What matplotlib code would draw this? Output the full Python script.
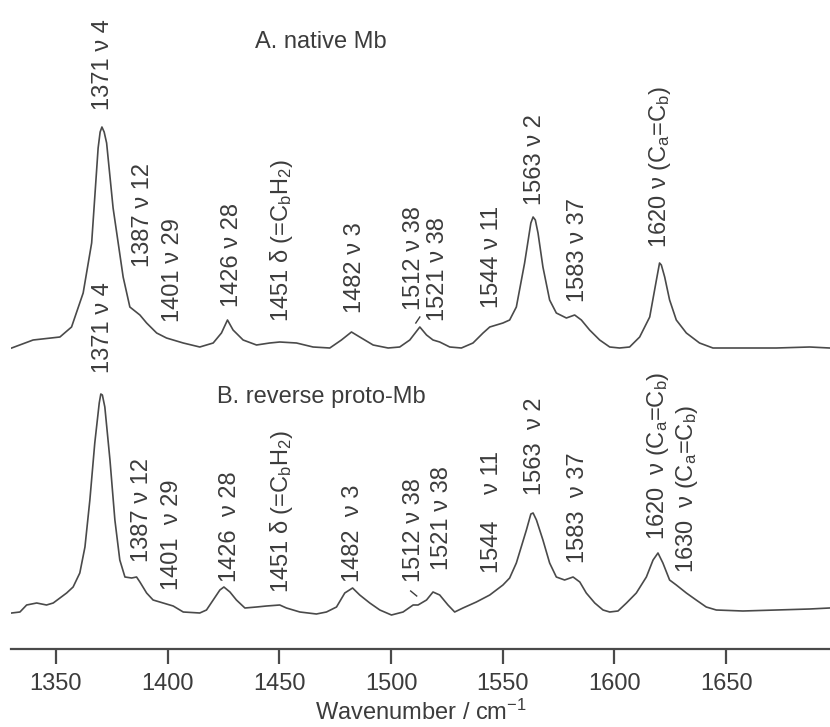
import matplotlib
matplotlib.use('Agg')
import matplotlib.pyplot as plt
import numpy as np

# spectrum A: native Mb (wavenumber, intensity in arb. units above baseline)
wn_a = [1330.2, 1339.8, 1351.8, 1357.0, 1362.2, 1366.0, 1368.9, 1369.8, 1370.6, 1371.6,
        1372.7, 1375.6, 1380.1, 1383.1, 1387.6, 1390.6, 1395.1, 1399.5, 1407.0, 1414.4,
        1420.4, 1424.1, 1426.8, 1429.3, 1433.8, 1439.8, 1445.7, 1450.2, 1457.7, 1465.1,
        1472.6, 1477.8, 1482.3, 1486.0, 1492.0, 1498.7, 1503.9, 1508.4, 1512.9, 1515.9,
        1518.8, 1521.8, 1526.3, 1531.5, 1536.7, 1541.2, 1544.2, 1550.1, 1553.1, 1556.1,
        1559.8, 1562.6, 1563.6, 1564.6, 1565.8, 1568.0, 1571.0, 1574.0, 1578.5, 1582.2,
        1585.2, 1588.9, 1593.4, 1597.9, 1602.3, 1606.8, 1611.3, 1615.8, 1618.8, 1620.2,
        1621.0, 1622.5, 1624.7, 1627.7, 1632.2, 1638.1, 1644.1, 1657.5, 1672.5, 1687.4,
        1696.3]
int_a = [0, 8, 11, 21, 55, 105, 200, 216, 221, 216,
         205, 140, 71, 41, 33, 25, 15, 10, 5, 1,
         5, 15, 28, 18, 8, 3, 5, 6, 5, 1,
         0, 8, 16, 11, 3, 0, 1, 8, 21, 13,
         8, 6, 1, 0, 5, 15, 21, 25, 28, 41,
         85, 125, 131, 128, 115, 81, 48, 35, 30, 33,
         28, 18, 8, 1, 0, 1, 11, 31, 68, 85,
         83, 71, 48, 28, 15, 5, 0, 0, 0, 1,
         0]

# spectrum B: reverse proto-Mb
wn_b = [1330.2, 1333.9, 1336.9, 1341.4, 1345.8, 1348.8, 1351.8, 1354.8, 1357.7, 1360.7,
        1363.0, 1365.2, 1367.4, 1369.4, 1370.1, 1370.8, 1371.9, 1374.2, 1376.4, 1378.6,
        1380.9, 1383.9, 1386.1, 1387.6, 1390.6, 1393.5, 1398.0, 1402.5, 1407.0, 1414.4,
        1417.4, 1420.4, 1423.4, 1425.2, 1427.9, 1430.8, 1434.6, 1439.8, 1444.3, 1450.2,
        1453.2, 1459.2, 1466.6, 1471.1, 1475.6, 1479.3, 1482.8, 1486.0, 1490.5, 1495.0,
        1500.2, 1505.4, 1509.9, 1512.1, 1515.9, 1518.8, 1521.8, 1525.5, 1528.5, 1532.2,
        1538.2, 1544.2, 1550.1, 1553.1, 1556.1, 1560.6, 1562.6, 1563.6, 1565.1, 1568.0,
        1571.0, 1574.0, 1577.7, 1581.5, 1584.5, 1587.4, 1591.2, 1594.9, 1597.9, 1601.6,
        1605.4, 1609.8, 1614.3, 1617.3, 1619.5, 1621.7, 1624.7, 1627.7, 1632.2, 1636.6,
        1641.1, 1645.6, 1657.5, 1672.5, 1687.4, 1696.3]
int_b = [0, 1, 8, 10, 8, 10, 15, 20, 26, 40,
         66, 113, 170, 210, 219, 218, 206, 153, 93, 53,
         36, 35, 36, 31, 20, 13, 10, 7, 1, 0,
         3, 13, 23, 26, 21, 13, 5, 6, 7, 8,
         5, 1, -1, 1, 6, 20, 25, 18, 10, 3,
         -2, 1, 8, 8, 13, 21, 18, 8, 1, 5,
         11, 18, 28, 35, 50, 83, 99, 100, 93, 73,
         50, 36, 33, 36, 31, 20, 10, 3, 1, 2,
         10, 20, 36, 53, 60, 50, 33, 28, 20, 13,
         6, 3, 2, 3, 4, 5]

# band labels: (text, x position, bottom of text in pixels from top)
labels_a = [
    ("1371 ν 4", 1371.0, 110),
    ("1387 ν 12", 1388.9, 267),
    ("1401 ν 29", 1402.3, 322),
    ("1426 ν 28", 1429.0, 307),
    ("1451 δ (=C$_\\mathregular{b}$H$_\\mathregular{2}$)", 1451.1, 322),
    ("1482 ν 3", 1483.8, 313),
    ("1512 ν 38", 1510.2, 310),
    ("1521 ν 38", 1520.9, 321),
    ("1544 ν 11", 1545.1, 308),
    ("1563 ν 2", 1564.3, 205),
    ("1583 ν 37", 1583.6, 302),
    ("1620 ν (C$_\\mathregular{a}$=C$_\\mathregular{b}$)", 1620.2, 248),
]
labels_b = [
    ("1371 ν 4", 1371.0, 373),
    ("1387 ν 12", 1388.5, 562),
    ("1401  ν 29", 1401.9, 590),
    ("1426  ν 28", 1427.9, 582),
    ("1451 δ (=C$_\\mathregular{b}$H$_\\mathregular{2}$)", 1451.1, 593),
    ("1482  ν 3", 1482.9, 582),
    ("1512 ν 38", 1510.2, 582),
    ("1521 ν 38", 1522.7, 570),
    ("1544    ν 11", 1545.1, 573),
    ("1563  ν 2", 1564.3, 495),
    ("1583  ν 37", 1583.6, 563),
    ("1620  ν (C$_\\mathregular{a}$=C$_\\mathregular{b}$)", 1619.4, 540),
    ("1630  ν (C$_\\mathregular{a}$=C$_\\mathregular{b}$)", 1632.3, 573),
]

plt.rcParams['font.family'] = ['Liberation Sans', 'DejaVu Sans']
plt.rcParams['mathtext.fontset'] = 'custom'
plt.rcParams['mathtext.rm'] = 'Liberation Sans'
plt.rcParams['mathtext.it'] = 'Liberation Sans:italic'

line_col = '#4a4a4a'
text_col = '#3c3c3c'
fs = 17

fig = plt.figure(figsize=(8.3, 7.27), dpi=100)
ax = fig.add_axes([11 / 830, 78 / 727, 819 / 830, 649 / 727])

# y in pixels above the x axis line; offsets put each trace on its baseline
off_a = 649 - 348
off_b = 649 - 613
ax.plot(wn_a, np.array(int_a) + off_a, color=line_col, lw=1.2)
ax.plot(wn_b, np.array(int_b) + off_b, color=line_col, lw=1.2)

ax.set_xlim(1329.9, 1696.5)
ax.set_ylim(0, 649)

for txt, x, ybot in labels_a + labels_b:
    ax.text(x, 649 - ybot, txt, rotation=90, ha='center', va='bottom',
            fontsize=fs, color=text_col)

# small leader ticks under the 1512 labels
ax.plot([1511.1, 1512.9], [326, 332], color=text_col, lw=1.0)
ax.plot([1508.8, 1511.5], [58, 53], color=text_col, lw=1.0)

ax.text(1439, 649 - 42, "A. native Mb", ha='left', va='center', fontsize=fs, color=text_col)
ax.text(1422, 649 - 397, "B. reverse proto-Mb", ha='left', va='center', fontsize=fs, color=text_col)

for s in ['top', 'left', 'right']:
    ax.spines[s].set_visible(False)
ax.spines['bottom'].set_color(line_col)
ax.spines['bottom'].set_linewidth(1.6)
ax.set_yticks([])
ax.set_xticks([1350, 1400, 1450, 1500, 1550, 1600, 1650])
ax.tick_params(axis='x', direction='out', length=11, width=1.6, color=line_col,
               labelsize=fs, labelcolor=text_col, pad=6)
ax.set_xlabel("Wavenumber / cm$^{-1}$", fontsize=fs, color=text_col, labelpad=4)
ax.patch.set_alpha(0)

fig.savefig('out.png', dpi=100)
